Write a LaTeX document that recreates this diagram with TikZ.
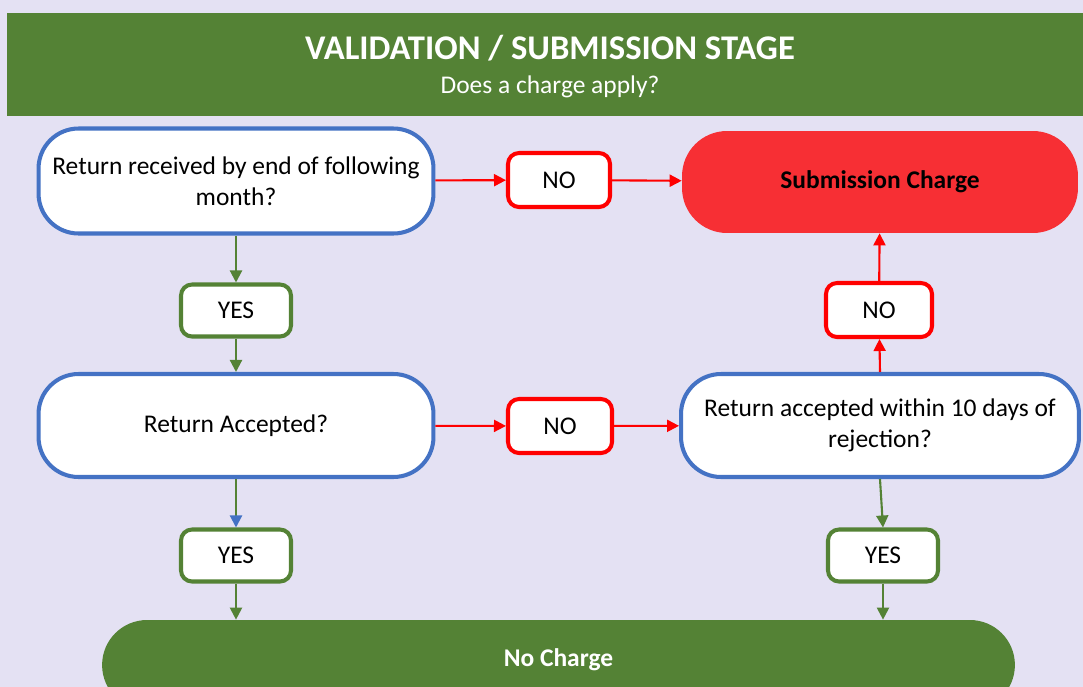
\documentclass[tikz,border=0pt]{standalone}
\usepackage{fontspec}
\setmainfont{Carlito}
\usetikzlibrary{arrows.meta}
\definecolor{bgcol}{HTML}{E4E1F3}
\definecolor{qblue}{HTML}{4472C4}
\definecolor{okgreen}{HTML}{548235}
\definecolor{stopred}{HTML}{FF0000}
\definecolor{chargered}{HTML}{F72F34}
\tikzset{
  askbox/.style={draw=qblue, line width=2.3pt, fill=white, rounded corners=0.8cm,
    minimum width=7.9cm, minimum height=2.06cm, align=center, inner sep=0pt,
    font=\fontsize{14.5}{17.6}\selectfont},
  yesbox/.style={draw=okgreen, line width=2.3pt, fill=white, rounded corners=0.22cm,
    minimum width=2.2cm, minimum height=1.04cm, inner sep=0pt,
    font=\fontsize{14.5}{17.6}\selectfont},
  nobox/.style={yesbox, draw=stopred},
  endbox/.style={rounded corners=0.9cm, inner sep=0pt,
    font=\fontsize{14.5}{17.6}\selectfont\bfseries},
  yesline/.style={draw=okgreen, line width=1.2pt, -{Triangle[length=0.24cm, width=0.24cm]}},
  noline/.style={draw=stopred, line width=1.2pt, -{Triangle[length=0.24cm, width=0.24cm]}}
}
\begin{document}
\begin{tikzpicture}[x=0.02cm, y=-0.02cm]
  \useasboundingbox (0,0) rectangle (1083,687);
  \clip (0,0) rectangle (1083,687);
  \fill[bgcol] (0,0) rectangle (1083,687);
  % header
  \fill[okgreen] (7,13) rectangle (1083,116);
  \node[text=white, font=\fontsize{19.7}{22}\selectfont\bfseries] (title) at (550,48) {VALIDATION / SUBMISSION STAGE};
  \node[text=white, font=\fontsize{14.5}{17}\selectfont] (subtitle) at (550,87) {Does a charge apply?};

  % questions
  \node[askbox, minimum height=2.1cm] (received) at (236,181) {Return received by end of following\\month?};
  \node[askbox] (accepted) at (236,425.5) {Return Accepted?};
  \node[askbox, minimum width=7.96cm] (within) at (880,425.5) {Return accepted within 10 days of\\rejection?};

  % answers
  \node[nobox, minimum width=2.04cm, minimum height=1.08cm] (no1) at (559,180) {NO};
  \node[nobox, minimum width=2.08cm, minimum height=1.08cm] (no2) at (560,426) {NO};
  \node[nobox, minimum width=2.12cm, minimum height=1.08cm] (no3) at (879,310) {NO};
  \node[yesbox] (yes1) at (236,310.5) {YES};
  \node[yesbox] (yes2) at (236,555.5) {YES};
  \node[yesbox] (yes3) at (883,555.5) {YES};

  % outcomes
  \node[endbox, fill=chargered, minimum width=7.92cm, minimum height=2.04cm] (charge) at (880,182) {Submission Charge};
  \node[endbox, fill=okgreen, text=white, minimum width=18.26cm, minimum height=1.8cm] (nocharge) at (558.5,665) {\raisebox{0.3cm}{No Charge}};

  % connectors
  \draw[noline] (received) -- (no1);
  \draw[noline] (no1) -- (charge);
  \draw[noline] (accepted) -- (no2);
  \draw[noline] (no2) -- (within);
  \draw[noline] (within.north) -- (no3);
  \draw[noline] (no3) -- (charge);
  \draw[yesline] (received) -- (yes1);
  \draw[yesline] (yes1) -- (accepted);
  \draw[yesline, -{Triangle[length=0.24cm, width=0.24cm, color=qblue]}] (accepted) -- (yes2);
  \draw[yesline] (yes2) -- (yes2 |- nocharge.north);
  \draw[yesline] (within.south) -- (yes3.north);
  \draw[yesline] (yes3) -- (yes3 |- nocharge.north);
\end{tikzpicture}
\end{document}
